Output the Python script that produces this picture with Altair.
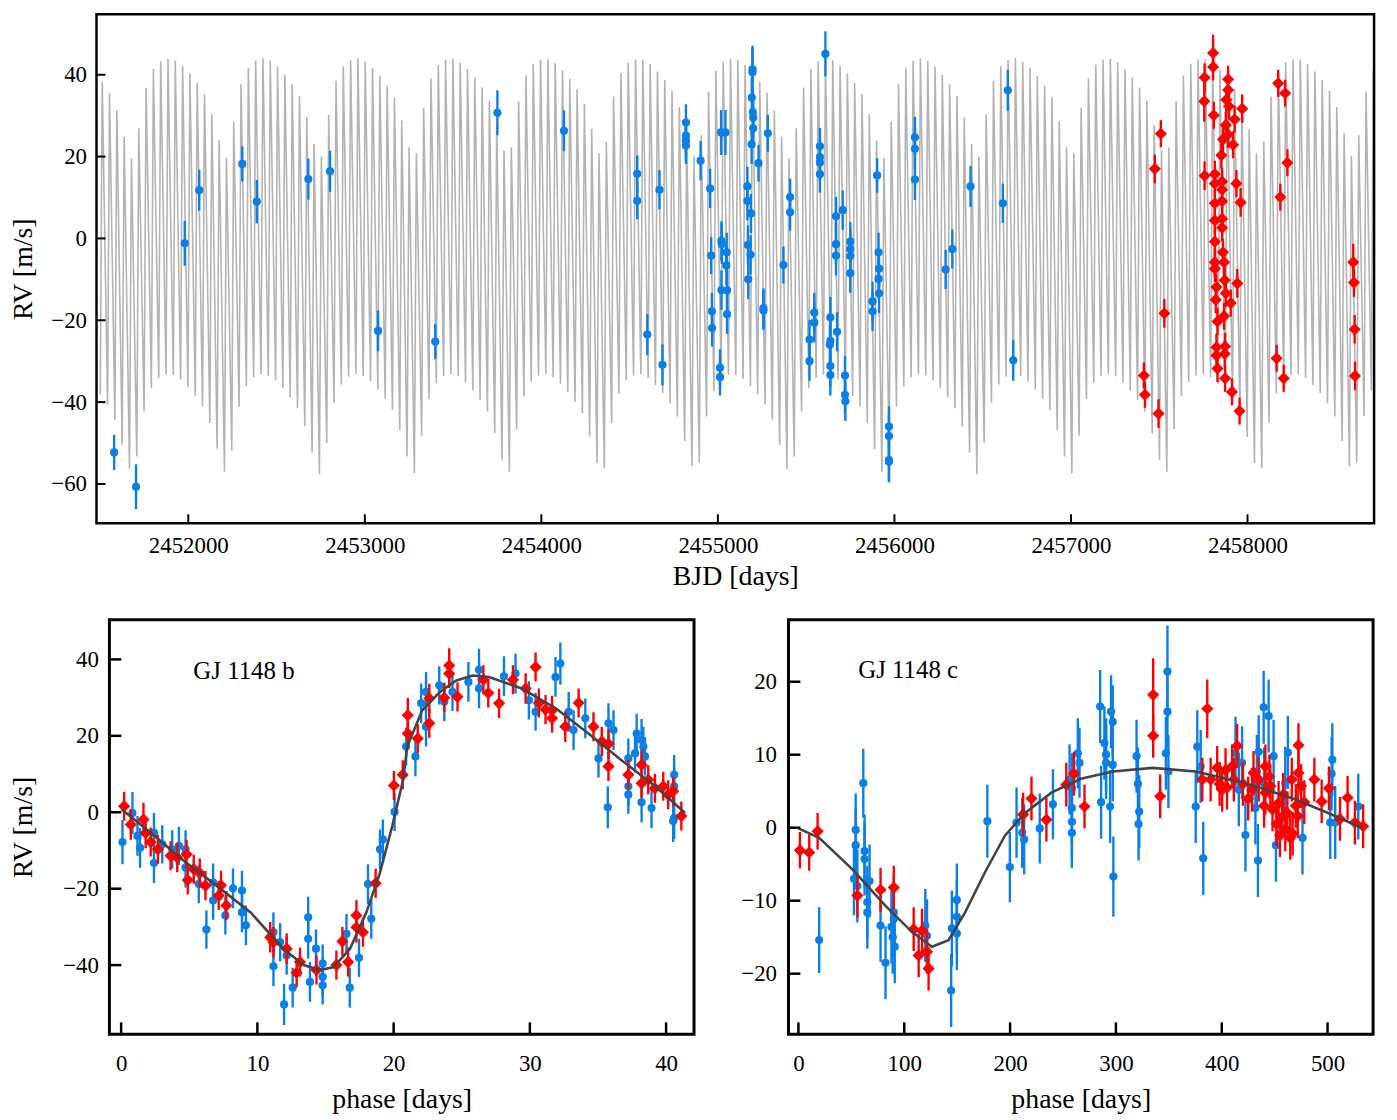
import altair as alt
import pandas as pd

FONT = "Liberation Serif"
BLUE = "#0a7fe6"
RED = "#ff0000"
GRAY = "#b3b3b3"
CURVE = "#444444"

# ---------------- top panel: RV time series ----------------
top_xdomain = [2451480, 2458717]
top_ydomain = [-69.6, 54.8]
top_xticks = [2452000, 2453000, 2454000, 2455000, 2456000, 2457000, 2458000]
top_yticks = [-60, -40, -20, 0, 20, 40]

top_blue_t = [
    2451580, 2451704, 2451980, 2452062, 2452306, 2452388, 2452680, 2452803, 2453075, 2453399,
    2453751, 2454128, 2454543, 2454543, 2454600, 2454669, 2454686, 2454819, 2454819, 2454819,
    2454819, 2454902, 2454956, 2454962, 2454966, 2454967, 2455012, 2455012, 2455018, 2455043,
    2455020, 2455022, 2455050, 2455048, 2455020, 2455052, 2455052, 2455196, 2455196, 2455192,
    2455198, 2455200, 2455200, 2455191, 2455230, 2455283, 2455167, 2455167, 2455187, 2455170,
    2455185, 2455172, 2455258, 2455258, 2455371, 2455409, 2455409, 2455578, 2455578, 2455578,
    2455578, 2455609, 2455519, 2455519, 2455546, 2455546, 2455637, 2455637, 2455634, 2455637,
    2455637, 2455669, 2455669, 2455669, 2455675, 2455707, 2455750, 2455750, 2455750, 2455750,
    2455720, 2455720, 2455722, 2455902, 2455876, 2455876, 2455910, 2455913, 2455910, 2455913,
    2455969, 2455969, 2455969, 2455969, 2456116, 2456116, 2456116, 2456431, 2456614, 2456642,
    2456328, 2456290, 2456673]
top_blue_rv = [
    -52.3, -60.7, -1.2, 11.8, 18.2, 9.0, 14.5, 16.4, -22.6, -25.2,
    30.7, 26.3, 15.8, 9.2, -23.5, 11.9, -30.9, 28.3, 25.1, 23.9,
    22.7, 19.0, 12.2, -4.2, -17.8, -21.9, -31.6, -33.9, 25.9, 25.9,
    -0.6, -1.4, -3.4, -6.6, -12.6, -12.7, -18.5, 41.3, 40.6, 34.4,
    30.9, 29.5, 26.9, 23.0, 18.4, 25.7, 12.7, 9.2, 6.1, -1.6,
    -4.0, -10.0, -17.0, -17.6, -6.5, 10.1, 6.4, 22.5, 19.9, 18.5,
    15.7, 45.1, -24.7, -30.0, -18.1, -20.6, -19.3, -25.0, -26.0, -31.2,
    -33.4, 5.4, -1.4, -4.2, -22.8, 6.9, -0.8, -2.6, -4.3, -8.5,
    -33.5, -38.2, -39.8, 15.4, -15.4, -17.8, -3.4, -7.4, -9.9, -13.4,
    -46.0, -48.3, -54.2, -54.6, 24.7, 21.9, 14.4, 12.7, 8.6, 36.2,
    -2.6, -7.6, -29.8]
top_blue_err = [
    4.3, 5.5, 5.5, 5.0, 4.3, 5.3, 5.0, 5.0, 5.0, 4.3,
    5.5, 5.0, 4.5, 4.5, 5.0, 4.8, 5.0, 4.5, 4.5, 4.5,
    4.5, 4.8, 4.8, 4.5, 4.5, 4.5, 4.5, 4.5, 5.5, 5.5,
    4.8, 4.8, 4.8, 4.8, 4.8, 4.8, 4.8, 5.8, 5.8, 5.0,
    4.8, 4.8, 4.8, 4.8, 4.5, 4.5, 4.8, 4.8, 4.8, 4.8,
    4.8, 4.8, 4.8, 4.8, 4.5, 4.5, 4.5, 4.5, 4.5, 4.5,
    4.5, 5.5, 4.8, 4.8, 4.8, 4.8, 5.0, 5.0, 5.0, 5.0,
    5.0, 4.8, 4.8, 4.8, 4.8, 4.8, 4.8, 4.8, 4.8, 4.8,
    4.8, 4.8, 4.8, 4.2, 4.8, 4.8, 4.8, 4.8, 4.8, 4.8,
    5.0, 5.0, 5.0, 5.0, 5.0, 5.0, 5.0, 5.0, 4.8, 5.0,
    4.8, 4.8, 5.0]

top_red_t = [
    2457413, 2457419, 2457475, 2457496, 2457509, 2457529, 2457805, 2457805, 2457757, 2457755,
    2457809, 2457890, 2457890, 2457880, 2457895, 2457970, 2457927, 2457877, 2457890, 2457861,
    2457918, 2457852, 2458174, 2458213, 2458226, 2458186, 2457757, 2457815, 2457815, 2457856,
    2457856, 2457937, 2457961, 2457815, 2457856, 2457815, 2457856, 2457856, 2457815, 2457861,
    2457815, 2457867, 2457815, 2457871, 2457824, 2457942, 2457877, 2457905, 2457820, 2457867,
    2457830, 2457824, 2457873, 2457824, 2457871, 2457830, 2457873, 2457912, 2457955, 2458165,
    2458205, 2458599, 2458603, 2458607, 2458609]
top_red_rv = [
    -33.5, -38.2, 17.0, -42.8, 25.6, -18.3, 45.3, 41.9, 39.3, 33.5,
    30.1, 38.9, 36.3, 33.9, 32.3, 31.7, 29.1, 27.7, 25.4, 24.2,
    22.9, 20.3, 37.9, 35.5, 18.5, 10.1, 15.3, 15.7, 13.4, 13.9,
    11.9, 13.4, 8.8, 8.6, 9.1, 4.4, 4.8, 2.6, -0.8, -3.4,
    -5.8, -5.8, -7.4, -10.2, -11.9, -11.0, -13.4, -15.8, -15.0, -19.0,
    -20.3, -26.6, -26.4, -28.6, -28.2, -31.8, -34.2, -37.5, -42.2, -29.3,
    -34.2, -5.8, -10.8, -22.2, -33.6]
top_red_err = [
    3.2, 3.2, 3.5, 3.5, 3.3, 3.5, 4.5, 3.3, 3.5, 5.0,
    3.3, 3.3, 3.3, 3.3, 3.3, 3.5, 3.3, 3.3, 3.3, 3.3,
    3.3, 3.3, 3.3, 3.3, 3.3, 3.3, 3.5, 3.3, 3.3, 3.3,
    3.3, 3.3, 3.5, 3.3, 3.3, 3.3, 3.3, 3.3, 3.3, 3.3,
    3.3, 3.3, 3.3, 3.3, 3.3, 3.5, 3.3, 3.3, 3.3, 3.3,
    3.3, 3.3, 3.3, 3.3, 3.3, 3.3, 3.3, 3.3, 3.3, 3.3,
    3.3, 4.5, 3.5, 3.5, 3.5]

# two-planet model drawn in grey: successive maxima / minima
model_t0 = 2451471.2      # BJD of the first maximum
model_step = 41.38        # days between successive maxima
model_rise = 11.2         # days from a minimum to the following maximum
top_model_peaks = [
    40.5, 38.3, 35.6, 31.3, 24.8, 19.6, 26.9, 36.8, 41.4, 43.3,
    43.9, 43.5, 42.2, 40.3, 38.0, 35.3, 30.4, 24.0, 19.7, 28.6,
    37.7, 41.7, 43.5, 44.0, 43.4, 42.0, 40.0, 37.6, 34.8, 29.6,
    23.1, 20.0, 30.2, 38.5, 42.1, 43.6, 44.0, 43.2, 41.7, 39.7,
    37.3, 34.5, 28.8, 22.3, 20.8, 31.9, 39.1, 42.4, 43.7, 43.9,
    43.0, 41.4, 39.3, 36.9, 33.7, 27.8, 21.5, 22.2, 33.5, 39.8,
    42.7, 43.7, 43.8, 42.8, 41.1, 39.0, 36.5, 32.9, 26.8, 20.8,
    23.7, 34.7, 40.4, 43.0, 43.8, 43.7, 42.6, 40.8, 38.7, 36.1,
    32.1, 25.7, 20.2, 25.2, 35.9, 41.0, 43.2, 43.9, 43.6, 42.4,
    40.5, 38.3, 35.6, 31.2, 24.8, 19.6, 26.9, 36.9, 41.4, 43.3,
    43.9, 43.5, 42.2, 40.3, 38.0, 35.3, 30.4, 23.9, 19.7, 28.6,
    37.7, 41.7, 43.5, 44.0, 43.4, 42.0, 40.0, 37.6, 34.8, 29.6,
    23.1, 20.0, 30.3, 38.5, 42.1, 43.6, 44.0, 43.2, 41.7, 39.7,
    37.3, 34.5, 28.7, 22.3, 20.9, 31.9, 39.1, 42.4, 43.7, 43.9,
    43.0, 41.4, 39.3, 36.9, 33.7, 27.7, 21.5, 22.2, 33.5, 39.8,
    42.7, 43.7, 43.8, 42.8, 41.1, 39.0, 36.5, 32.9, 26.7, 20.8,
    23.7, 34.7, 40.5, 43.0, 43.8, 43.7, 42.6, 40.8, 38.7, 36.1,
    32.1, 25.7, 20.2, 25.3, 35.9, 41.0]
top_model_troughs = [
    -36.1, -38.1, -40.6, -44.3, -50.4, -56.3, -53.3, -42.3, -36.6, -34.1,
    -33.3, -33.4, -34.5, -36.3, -38.5, -41.1, -45.1, -51.4, -57.0, -51.8,
    -41.2, -36.1, -33.9, -33.2, -33.5, -34.7, -36.6, -38.8, -41.5, -45.9,
    -52.4, -57.6, -50.0, -40.2, -35.7, -33.8, -33.2, -33.6, -34.9, -36.9,
    -39.2, -41.9, -46.8, -53.3, -57.4, -48.3, -39.3, -35.4, -33.6, -33.1,
    -33.7, -35.2, -37.1, -39.5, -42.3, -47.6, -54.1, -57.0, -46.7, -38.6,
    -35.0, -33.5, -33.2, -33.9, -35.5, -37.5, -39.9, -42.7, -48.4, -54.9,
    -56.1, -45.1, -37.9, -34.6, -33.4, -33.2, -34.1, -35.8, -37.8, -40.3,
    -43.5, -49.5, -55.7, -54.8, -43.5, -37.3, -34.4, -33.4, -33.3, -34.3,
    -36.1, -38.1, -40.6, -44.3, -50.5, -56.4, -53.3, -42.3, -36.6, -34.1,
    -33.3, -33.4, -34.5, -36.3, -38.5, -41.1, -45.1, -51.5, -57.0, -51.7,
    -41.1, -36.1, -33.9, -33.2, -33.5, -34.7, -36.6, -38.8, -41.5, -46.0,
    -52.4, -57.6, -50.0, -40.1, -35.7, -33.8, -33.2, -33.6, -35.0, -36.9,
    -39.2, -41.9, -46.8, -53.3, -57.4, -48.2, -39.3, -35.3, -33.6, -33.1,
    -33.7, -35.2, -37.2, -39.5, -42.3, -47.6, -54.1, -57.0, -46.6, -38.5,
    -35.0, -33.5, -33.2, -33.9, -35.5, -37.5, -39.9, -42.7, -48.5, -54.9,
    -56.1, -45.0, -37.9, -34.6, -33.4, -33.2, -34.1, -35.8, -37.8, -40.3,
    -43.5, -49.5, -55.7, -54.8, -43.4, -37.2, -34.3]

# ---------------- bottom left: phase folded, planet b ----------------
bl_xticks = [0, 10, 20, 30, 40]
bl_yticks = [-40, -20, 0, 20, 40]
bl_model_phase = [0.05, 2.2, 4.6, 7.0, 9.5, 11.9, 13.4, 14.6, 15.6, 16.8, 18.0, 19.0, 19.9,
                  20.7, 21.0, 22.1, 23.4, 24.6, 25.8, 27.0, 29.4, 31.9, 34.3, 36.7, 39.2, 41.4]
bl_model_rv = [0.7, -5.4, -12.7, -19.2, -26.2, -35.7, -40.0, -41.3, -40.5, -35.7, -26.2, -15.8, -3.6,
               8.5, 17.2, 26.7, 31.5, 34.5, 35.8, 35.4, 32.4, 27.2, 20.6, 13.7, 6.8, -0.2]

bl_blue_phase = [
    0.1, 0.83, 1.2, 1.39, 2.41, 2.41, 3.02, 3.75, 4.24, 4.73,
    4.73, 5.70, 6.26, 6.75, 6.75, 7.65, 8.21, 8.87, 8.87, 9.16,
    11.18, 11.18, 11.67, 11.96, 12.15, 12.59, 13.73, 13.73, 13.86, 14.3,
    14.79, 14.79, 14.79, 16.54, 16.78, 17.46, 18.36, 18.12, 19.0, 19.21,
    20.07, 20.92, 21.6, 22.02, 22.38, 22.38, 23.35, 23.72, 24.32, 25.49,
    26.27, 26.27, 28.1, 28.95, 29.93, 30.42, 31.88, 32.24, 32.85, 33.21,
    34.07, 35.04, 35.77, 36.14, 35.72, 37.23, 37.23, 37.23, 37.72, 37.84,
    38.2, 38.33, 38.45, 38.2, 38.93, 40.59, 40.59, 40.59, 40.52]
bl_blue_rv = [
    -7.8, -0.2, -6.2, -9.3, -5.4, -13.3, -8.4, -9.7, -8.8, -9.7,
    -14.5, -18.8, -30.7, -18.4, -23.1, -27.0, -19.9, -20.5, -26.2, -29.6,
    -31.4, -40.3, -34.0, -50.3, -37.5, -45.9, -27.5, -33.1, -44.4, -35.7,
    -39.6, -43.1, -45.3, -31.8, -45.9, -38.1, -27.9, -18.8, -9.7, -7.1,
    0.1, 17.2, 14.6, 28.5, 31.5, 22.4, 33.2, 28.9, 31.5, 34.1,
    37.3, 32.4, 35.6, 36.3, 29.3, 26.3, 35.4, 38.9, 26.3, 21.5,
    24.6, 14.1, 23.3, 21.5, 1.3, 14.1, 6.8, 4.6, 15.4, 20.6,
    18.9, 17.2, 14.6, 2.6, 1.1, 9.8, 6.8, -1.5, -2.3]
bl_blue_err = [
    5.8, 5.5, 5.2, 5.2, 5.2, 5.2, 5.0, 5.0, 5.0, 5.0,
    5.2, 5.0, 5.0, 5.0, 5.0, 5.0, 5.2, 5.2, 5.2, 5.2,
    5.2, 5.2, 5.0, 5.4, 5.0, 5.2, 5.4, 5.2, 5.2, 5.0,
    5.0, 5.0, 5.0, 5.2, 5.2, 5.0, 5.2, 5.2, 5.2, 5.2,
    5.0, 5.0, 5.2, 5.2, 5.2, 5.2, 5.0, 5.0, 5.0, 5.2,
    5.5, 5.2, 5.2, 5.2, 5.0, 5.0, 5.2, 5.5, 5.2, 5.2,
    5.2, 5.0, 5.2, 5.2, 5.5, 5.2, 5.0, 5.0, 5.0, 5.2,
    5.5, 5.2, 5.0, 5.2, 5.2, 5.2, 5.0, 5.5, 5.5]

bl_red_phase = [
    0.22, 0.71, 1.64, 1.80, 2.17, 2.70, 3.63, 4.12, 4.80, 4.89,
    5.33, 5.77, 6.19, 7.33, 7.16, 7.72, 10.94, 11.18, 12.15, 13.13,
    12.88, 14.34, 15.8, 16.24, 16.66, 17.27, 17.27, 17.75, 18.68, 20.02,
    20.67, 21.04, 21.04, 21.77, 22.62, 22.62, 23.72, 24.08, 24.08, 24.69,
    26.59, 26.95, 27.74, 28.76, 29.69, 30.42, 30.66, 31.15, 31.63, 31.63,
    32.6, 33.58, 34.67, 35.28, 35.77, 35.77, 37.23, 38.2, 38.2, 38.69,
    39.18, 39.79, 40.15, 40.52, 41.12]
bl_red_rv = [
    1.6, -3.2, -1.9, -5.4, -7.8, -9.7, -11.4, -11.9, -11.0, -17.7,
    -14.9, -15.9, -19.2, -19.1, -21.8, -24.4, -32.7, -34.0, -35.7, -39.2,
    -42.0, -41.3, -40.0, -33.8, -39.2, -27.0, -30.1, -31.4, -18.6, 7.0,
    9.8, 25.4, 20.6, 19.3, 29.8, 23.3, 30.0, 38.4, 36.3, 30.2,
    34.7, 31.2, 28.5, 34.7, 32.4, 38.0, 28.6, 26.9, 26.7, 24.6,
    22.4, 28.6, 22.4, 18.5, 17.9, 12.0, 9.8, 12.4, 7.6, 8.5,
    6.3, 6.8, 4.6, 5.5, -1.0]
bl_red_err = [
    3.8, 4.0, 4.4, 4.0, 3.8, 3.8, 3.8, 3.8, 3.8, 3.8,
    3.8, 3.8, 3.8, 3.8, 3.8, 3.8, 4.0, 4.0, 4.0, 3.8,
    3.8, 3.8, 3.8, 3.8, 3.8, 4.0, 4.0, 3.8, 3.8, 3.8,
    3.8, 4.5, 3.8, 3.8, 3.8, 3.8, 3.8, 4.5, 3.8, 3.8,
    3.8, 3.8, 3.8, 3.8, 4.0, 3.8, 3.8, 3.8, 3.8, 3.8,
    4.0, 3.8, 3.8, 3.8, 3.8, 3.8, 3.8, 3.8, 3.8, 3.8,
    3.8, 3.8, 3.8, 3.8, 3.8]

# ---------------- bottom right: phase folded, planet c ----------------
br_xticks = [0, 100, 200, 300, 400, 500]
br_yticks = [-20, -10, 0, 10, 20]
br_model_phase = [0, 19.6, 51, 82.3, 107.4, 126.2, 141.8, 157.5, 176.3, 195.1, 213.9,
                  239, 267, 297, 334.6, 375.4, 422.4, 469.4, 503.8, 532]
br_model_rv = [-0.1, -1.4, -5.7, -10.7, -14.3, -16.3, -15.4, -11.6, -6.1, -1.1, 2.0,
               4.8, 6.7, 7.7, 8.2, 7.7, 6.1, 3.9, 1.8, 0.0]

br_blue_phase = [
    19.6, 54.1, 54.1, 61.3, 62.5, 62.5, 52.5, 55.7, 67.2, 65.1,
    65.1, 77.6, 82.3, 87.9, 90.1, 90.1, 89.1, 91.0, 119.9, 121.5,
    144.3, 145.0, 149.7, 149.7, 149.7, 178.5, 199.8, 206.1, 211.4, 213.3,
    228.0, 240.5, 256.2, 258.4, 258.4, 258.4, 258.4, 264.0, 265.6,
    285.1, 289.1, 290.7, 290.7, 295.4, 297.0, 297.0, 286.0, 294.5, 297.6,
    319.5, 320.8, 322.0, 321.4, 348.7, 348.7, 347.2, 349.6, 376.9, 380.1,
    375.4, 382.5, 419.2, 416.1, 422.4, 434.9, 434.2, 439.6, 444.3, 449.0,
    431.8, 451.2, 462.5, 460.0, 476.3, 504.5, 503.8, 502.5, 507.2, 529.0,
    413.0, 433.2, 440.0]
br_blue_rv = [
    -15.4, -0.3, -2.4, 6.1, -3.2, -4.3, -7.0, -8.0, -7.3, -10.2,
    -11.6, -13.4, -18.5, -13.6, -11.6, -12.5, -15.0, -16.3, -13.4, -14.8,
    -22.3, -13.8, -9.9, -12.2, -14.5, 0.9, -5.4, 0.7, -0.7, -1.6,
    -0.1, 3.2, 6.6, 5.4, 2.7, 0.8, -0.7, 10.2, 8.9,
    16.6, 11.6, 10.0, 8.9, 15.9, 14.5, 8.6, 3.5, 2.9, -6.7,
    9.8, 6.0, 2.2, 0.5, 21.4, 15.9, 10.2, 7.7, 11.1, 8.4,
    2.9, -4.2, 8.9, 5.2, -1.0, 10.4, -4.5, 16.5, 15.3, 9.8,
    2.7, -2.4, 10.3, 6.1, -1.4, 9.3, 7.4, 0.7, 0.7, 2.9,
    10.2, 7.7, 6.0]
br_blue_err = [
    4.5, 5.0, 5.0, 4.7, 5.0, 5.0, 5.0, 5.0, 5.0, 5.0,
    5.0, 5.0, 5.0, 5.0, 5.0, 5.0, 5.0, 5.0, 5.0, 5.0,
    5.0, 5.2, 5.0, 5.0, 5.0, 5.0, 4.8, 4.8, 4.8, 4.8,
    4.8, 4.8, 4.8, 4.8, 4.8, 4.8, 4.8, 4.8, 4.8,
    5.0, 5.0, 5.0, 5.0, 5.0, 5.0, 5.0, 5.0, 5.0, 5.5,
    5.0, 5.0, 5.0, 5.0, 6.3, 5.0, 5.0, 5.0, 5.0, 5.0,
    5.0, 5.0, 5.0, 5.0, 5.0, 5.0, 5.0, 5.0, 5.0, 5.0,
    5.0, 5.0, 5.0, 5.0, 5.0, 5.0, 5.0, 5.0, 5.0, 4.5,
    5.0, 5.0, 5.0]

br_red_phase = [
    1.4, 10.2, 18.1, 55.7, 77.6, 90.1, 108.9, 116.8, 113.6, 121.5,
    123.0, 212.3, 220.2, 234.3, 253.1, 260.3, 270.3,
    335.2, 335.2, 341.8, 386.3, 381.6, 389.5, 395.7, 400.4, 403.6, 409.8,
    414.5, 411.4, 428.6, 434.9, 441.2, 441.2, 445.9, 453.7, 456.8, 460.0,
    464.7, 466.2, 472.5, 472.5, 475.0, 471.8, 487.5, 494.4, 501.3, 511.7,
    518.9, 525.8, 533.6,
    448.0, 452.0, 458.0, 462.0, 467.0, 470.0, 440.0, 430.0, 405.0, 398.0,
    420.0, 425.0, 445.0, 455.0, 478.0]
br_red_rv = [
    -3.1, -3.4, -0.5, -9.3, -8.5, -8.2, -13.9, -14.1, -17.5, -17.0,
    -19.3, 1.8, 4.0, 1.1, 5.9, 7.4, 2.9,
    18.2, 12.6, 4.3, 16.3, 6.6, 6.6, 8.2, 5.2, 7.9, 8.4,
    11.2, 6.6, 5.2, 6.6, 8.4, 4.8, 5.7, 3.4, 1.4, -0.2,
    -1.4, 6.6, 11.3, 7.5, 5.7, 1.6, 6.6, 3.6, 5.4, 1.2,
    4.1, 0.7, 0.2,
    2.5, 0.5, 4.5, 2.0, -0.8, 3.0, 3.0, 7.5, 5.5, 6.0,
    6.0, 4.0, 7.0, -1.0, 3.5]
br_red_err = [
    2.5, 2.5, 2.5, 3.0, 3.0, 3.0, 3.0, 3.0, 3.0, 3.0,
    3.0, 3.0, 3.0, 3.0, 3.0, 3.0, 3.0,
    5.0, 3.0, 3.0, 4.0, 3.0, 3.0, 3.0, 3.0, 3.0, 3.0,
    3.0, 3.0, 3.0, 3.0, 3.0, 3.0, 3.0, 3.0, 3.0, 3.0,
    3.0, 3.0, 3.0, 3.0, 3.0, 3.0, 3.0, 3.0, 3.0, 3.0,
    3.0, 3.0, 3.0,
    3.0, 3.0, 3.0, 3.0, 3.0, 3.0, 3.0, 3.0, 3.0, 3.0,
    3.0, 3.0, 3.0, 3.0, 3.0]

labels_b = ["GJ 1148 b"]
labels_c = ["GJ 1148 c"]


# ---------------- helpers ----------------
def points_table(xname, xs, rvs, errs):
    rows = [{xname: x, "rv": v, "lo": v - e, "hi": v + e} for x, v, e in zip(xs, rvs, errs)]
    return pd.DataFrame(rows)


AX = dict(ticks=False, domain=False, grid=False, labelFont=FONT, labelFontSize=23,
          labelColor="black", titleFont=FONT, titleFontSize=28, titleFontWeight="normal",
          titleColor="black", labelFlush=False, labelOverlap=False)


def x_axis(values, title, pad, ext, tpad, fmt=None):
    kw = dict(values=values, title=title, labelPadding=pad, minExtent=ext, maxExtent=ext,
              titlePadding=tpad, **AX)
    if fmt:
        kw["format"] = fmt
    return alt.Axis(**kw)


def y_axis(values, title, pad, ext, tpad, offset=0):
    kw = dict(values=values, labelPadding=pad, minExtent=ext, maxExtent=ext, **AX)
    if offset:
        kw["offset"] = offset
    if title:
        kw.update(title=title, titlePadding=tpad, titleBaseline="alphabetic")
    else:
        kw.update(title=None)
    return alt.Axis(**kw)


def build_panel(xname, xscale, yscale, xax, yax, blue, red, lines, texts,
                xticks, yticks, w, h, tick_len, tick_w, x0=0, frame_w=None, clip=True):
    """All layers share the same explicit scale + axis definitions.
    x0: pixel position of the frame's left edge inside the view."""
    X = lambda f: alt.X(f"{f}:Q", scale=xscale, axis=xax)
    Y = lambda f: alt.Y(f"{f}:Q", scale=yscale, axis=yax)
    layers = []
    for df, color, width, pos in lines:
        if pos == "below":
            layers.append(alt.Chart(df).mark_line(color=color, strokeWidth=width, clip=clip).encode(
                x=X(xname), y=Y("rv"), order=f"{xname}:Q"))
    layers += [
        alt.Chart(blue).mark_rule(color=BLUE, strokeWidth=2.4, clip=clip).encode(
            x=X(xname), y=Y("lo"), y2="hi:Q"),
        alt.Chart(blue).mark_point(shape="circle", filled=True, size=68, opacity=1,
                                   color=BLUE, clip=clip).encode(x=X(xname), y=Y("rv")),
        alt.Chart(red).mark_rule(color=RED, strokeWidth=2.4, clip=clip).encode(
            x=X(xname), y=Y("lo"), y2="hi:Q"),
        alt.Chart(red).mark_point(shape="diamond", filled=True, size=150, opacity=1,
                                  color=RED, clip=clip).encode(x=X(xname), y=Y("rv")),
    ]
    for df, color, width, pos in lines:
        if pos == "above":
            layers.append(alt.Chart(df).mark_line(color=color, strokeWidth=width, clip=clip).encode(
                x=X(xname), y=Y("rv"), order=f"{xname}:Q"))
    for df in texts:
        layers.append(alt.Chart(df).mark_text(
            font=FONT, fontSize=25, align="left", baseline="alphabetic", color="black").encode(
            x=X(xname), y=Y("rv"), text="txt:N"))
    layers.append(alt.Chart(pd.DataFrame({"rv": yticks})).mark_rule(
        color="black", strokeWidth=tick_w).encode(
        y=Y("rv"), x=alt.value(x0), x2=alt.value(x0 + tick_len)))
    layers.append(alt.Chart(pd.DataFrame({xname: xticks})).mark_rule(
        color="black", strokeWidth=tick_w).encode(
        x=X(xname), y=alt.value(h), y2=alt.value(h - tick_len)))
    if frame_w:
        layers.append(alt.Chart(pd.DataFrame({"k": [0]})).mark_rect(
            fillOpacity=0, stroke="black", strokeWidth=frame_w).encode(
            x=alt.value(x0), x2=alt.value(w), y=alt.value(0), y2=alt.value(h)))
    return alt.layer(*layers)


# ---------------- top panel ----------------
# the view origin is shared with the lower-left panel; the frame is widened 13 px
# to the left through the x-scale range, and the y axis follows with an offset
TOP_X0 = -13
W_TOP, H_TOP = 1272, 512
model_rows = []
for j, v in enumerate(top_model_troughs):
    model_rows.append({"t": model_t0 + j * model_step - model_rise, "rv": v})
for k, v in enumerate(top_model_peaks):
    model_rows.append({"t": model_t0 + k * model_step, "rv": v})
model_df = pd.DataFrame(model_rows).sort_values("t")
model_df = model_df[(model_df["t"] >= top_xdomain[0]) & (model_df["t"] <= top_xdomain[1])]

top = build_panel(
    "t",
    alt.Scale(domain=top_xdomain, range=[TOP_X0, W_TOP], nice=False, zero=False),
    alt.Scale(domain=top_ydomain, nice=False, zero=False),
    x_axis(top_xticks, "BJD [days]", 11, 34, 6, fmt="d"),
    y_axis(top_yticks, "RV [m/s]", 10, 46, 19, offset=-TOP_X0),
    points_table("t", top_blue_t, top_blue_rv, top_blue_err),
    points_table("t", top_red_t, top_red_rv, top_red_err),
    [(model_df, GRAY, 1.6, "below")],
    [],
    top_xticks, top_yticks, W_TOP, H_TOP, 9, 2,
    x0=TOP_X0, frame_w=2.5, clip=False,
).properties(width=W_TOP, height=H_TOP, view={"stroke": "transparent"})

# ---------------- bottom panels ----------------
W_B, H_B = 588, 417


def phase_panel(blue, red, mphase, mrv, xdom, ydom, xticks, yticks, ytitle, ypad, ytpad,
                label, lx, ly):
    curve_df = pd.DataFrame({"phase": mphase, "rv": mrv})
    txt_df = pd.DataFrame({"phase": [lx], "rv": [ly], "txt": label})
    return build_panel(
        "phase",
        alt.Scale(domain=xdom, nice=False, zero=False),
        alt.Scale(domain=ydom, nice=False, zero=False),
        x_axis(xticks, "phase [days]", 18, 41, 11),
        y_axis(yticks, ytitle, ypad, 36 + ypad, ytpad),
        blue, red,
        [(curve_df, CURVE, 2.6, "above")],
        [txt_df],
        xticks, yticks, W_B, H_B, 12, 2.5,
    ).properties(width=W_B, height=H_B, view={"stroke": "black", "strokeWidth": 3})


bl = phase_panel(points_table("phase", bl_blue_phase, bl_blue_rv, bl_blue_err),
                 points_table("phase", bl_red_phase, bl_red_rv, bl_red_err),
                 bl_model_phase, bl_model_rv, [-0.86, 42.05], [-58.1, 50.4],
                 bl_xticks, bl_yticks, "RV [m/s]", 11, 31, labels_b, 5.3, 35.0)

br = phase_panel(points_table("phase", br_blue_phase, br_blue_rv, br_blue_err),
                 points_table("phase", br_red_phase, br_red_rv, br_red_err),
                 br_model_phase, br_model_rv, [-9.4, 543.0], [-28.3, 28.5],
                 br_xticks, br_yticks, None, 12, 0, labels_c, 56.5, 20.5)

chart = alt.vconcat(
    top,
    alt.hconcat(bl, br, spacing=43),
    spacing=25,
).properties(
    padding={"left": 0, "top": 0, "right": 0, "bottom": 0},
    background="white",
).configure(font=FONT).configure_view(stroke="black", strokeWidth=2.5)

chart.save("out.html", embed_options={"renderer": "svg", "actions": False})
